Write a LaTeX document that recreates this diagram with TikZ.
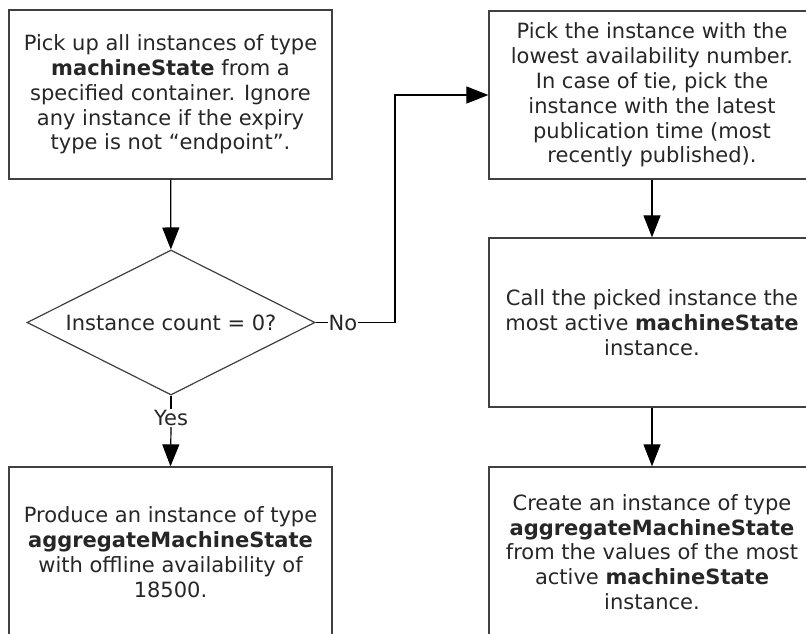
\documentclass[tikz,border=0pt]{standalone}
\usepackage{fontspec}
\setmainfont{DejaVu Sans}
\usepackage{tikz}
\usetikzlibrary{shapes.geometric}
\usetikzlibrary{arrows.meta}

\tikzset{
  stepbox/.style={draw=black!75, line width=1.3pt, rectangle, align=center,
    inner sep=0pt, text=black!85, font=\fontsize{21}{24.8}\selectfont},
  decision/.style={draw=black!75, line width=1.2pt, diamond, aspect=2,
    inner sep=0pt, minimum width=288pt, minimum height=145pt,
    text=black!85, font=\fontsize{21}{24.8}\selectfont},
  lbl/.style={inner sep=1pt, fill=white, text=black!85,
    font=\fontsize{21}{24.8}\selectfont},
  flow/.style={line width=1.2pt, -{Triangle[length=22pt,width=17pt]}},
}

\begin{document}
\begin{tikzpicture}[x=1pt,y=1pt]
  \useasboundingbox (0,0) rectangle (806,-633);
  \clip (0,0) rectangle (806,-633);
  % left column
  \node[stepbox, minimum width=323pt, minimum height=169pt] (pick) at (170.5,-94.5)
    {Pick up all instances of type\\\textbf{machineState} from a\\specified container. Ignore\\any instance if the expiry\\type is not “endpoint”.};
  \node[decision] (count) at (171,-322.5) {Instance count = 0?};
  \node[stepbox, minimum width=323pt, minimum height=170pt] (offline) at (170.5,-552)
    {Produce an instance of type\\\textbf{aggregateMachineState}\\with offline availability of\\18500.};
  % right column
  \node[stepbox, minimum width=326pt, minimum height=168pt] (lowest) at (652,-95)
    {Pick the instance with the\\lowest availability number.\\In case of tie, pick the\\instance with the latest\\publication time (most\\recently published).};
  \node[stepbox, minimum width=326pt, minimum height=169pt] (active) at (652,-322.5)
    {Call the picked instance the\\most active \textbf{machineState}\\instance.};
  \node[stepbox, minimum width=326pt, minimum height=170pt] (create) at (652,-552)
    {Create an instance of type\\\textbf{aggregateMachineState}\\from the values of the most\\active \textbf{machineState}\\instance.};
  % labels
  \node[lbl] (no) at (343,-322.5) {No};
  \node[lbl] (yes) at (171,-418) {Yes};
  \coordinate (bend) at (395,-322.5);
  % connectors
  \draw[flow] (pick) -- (count);
  \draw[line width=1.2pt] (count.east) -- (no.west);
  \draw[flow] (no.east) -- (bend) |- (lowest.west);
  \draw[line width=1.2pt] (count.south) -- (yes.north);
  \draw[flow] (yes.south) -- (offline.north);
  \draw[flow] (lowest) -- (active);
  \draw[flow] (active) -- (create);
\end{tikzpicture}
\end{document}
